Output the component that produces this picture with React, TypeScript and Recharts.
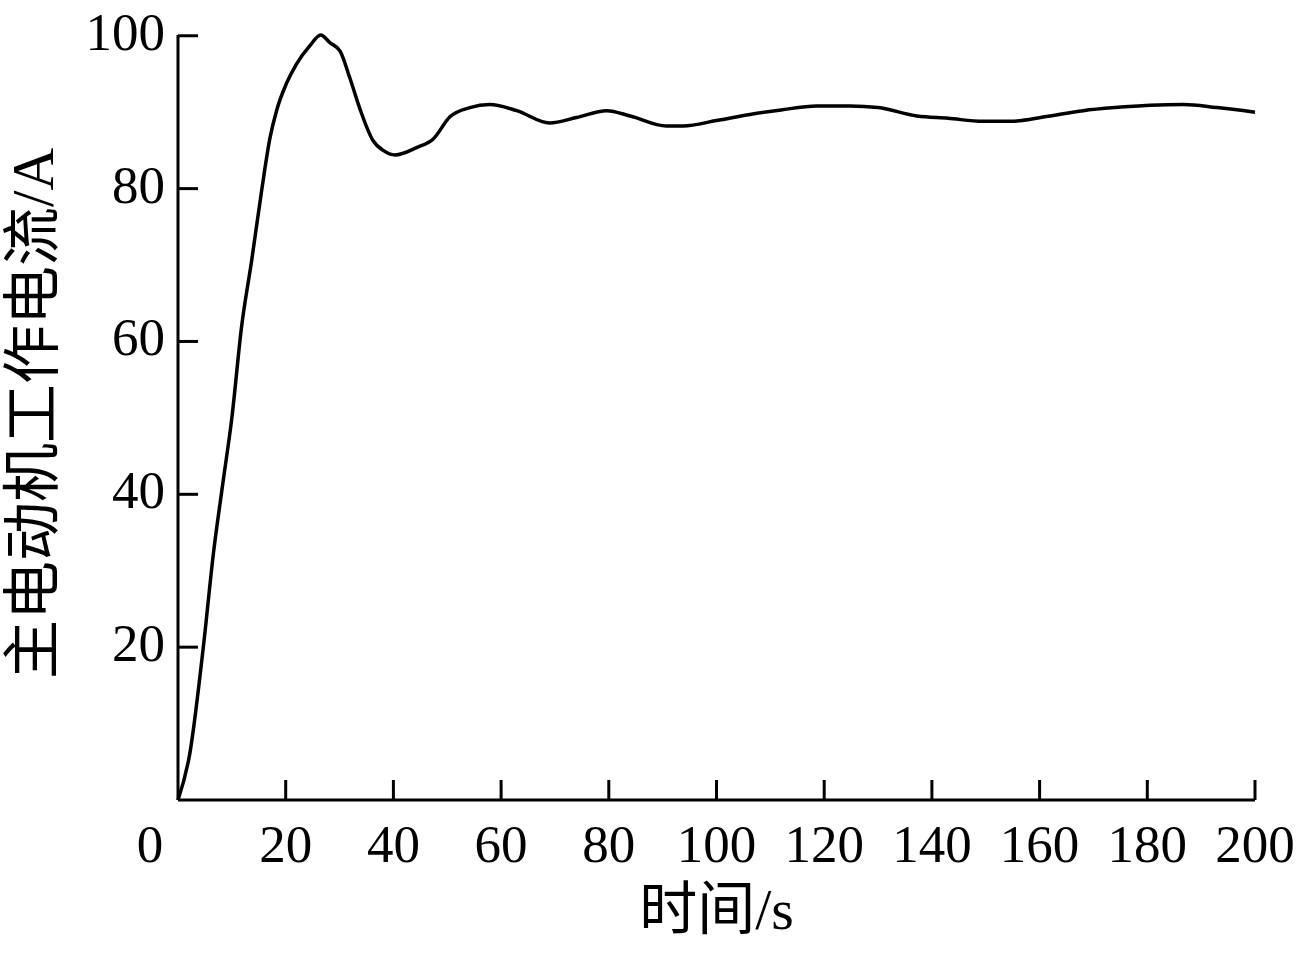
import React from "react"
import { LineChart, Line, XAxis, YAxis, Label } from "recharts"

// time (s) and main motor current (A)
const timeS = [
  0, 2.2, 4.7, 6.6, 8.4, 10, 11.8, 13.7, 15.5, 17.1, 18.3, 20.1, 22, 24.5, 26.5,
  28.2, 30.1, 31.9, 33.8, 36.2, 38.1, 40.3, 44.4, 47.4, 50.5, 54.2, 57.9, 62.9,
  69, 74, 79.6, 84, 90.7, 93.8, 100, 106.2, 112, 118.6, 124.8, 130, 137.2, 143,
  149.5, 154.5, 161, 168.1, 174, 180.5, 186.7, 192.9, 200,
]
const currentA = [
  0, 6.1, 20, 32.4, 41.8, 50, 61.9, 70.7, 79.6, 86.7, 90.2, 93.7, 96.3, 98.7, 100.1,
  99.1, 98, 94.5, 90.4, 86.3, 85, 84.4, 85.4, 86.5, 89.4, 90.6, 91, 90.2,
  88.6, 89.3, 90.2, 89.5, 88.2, 88.2, 88.9, 89.7, 90.3, 90.8, 90.8, 90.6, 89.5, 89.2,
  88.8, 88.8, 89.4, 90.2, 90.6, 90.9, 91, 90.6, 90,
]
const xTicks = [0, 20, 40, 60, 80, 100, 120, 140, 160, 180, 200]
const yTicks = [20, 40, 60, 80, 100]
const xTitle = "时间/s"
const yTitle = "主电动机工作电流/A"

const data = timeS.map((t, i) => ({ time: t, current: currentA[i] }))

const numFont = "'Liberation Serif', 'Times New Roman', serif"
const cjkFont = "'Liberation Serif', 'Noto Sans CJK SC', serif"

function XTick(props: any) {
  const { x, y, payload } = props
  const isZero = payload.value === 0
  return (
    <g>
      {!isZero && <line x1={x} y1={y} x2={x} y2={y - 20} stroke="#000" strokeWidth={3} />}
      <text
        x={isZero ? x - 28 : x}
        y={y + 62}
        textAnchor="middle"
        fontFamily={numFont}
        fontSize={53}
        fill="#000"
      >
        {payload.value}
      </text>
    </g>
  )
}

function YTick(props: any) {
  const { x, y, payload } = props
  return (
    <g>
      <line x1={x} y1={y} x2={x + 20} y2={y} stroke="#000" strokeWidth={3} />
      <text x={x - 13} y={y + 14} textAnchor="end" fontFamily={numFont} fontSize={53} fill="#000">
        {payload.value}
      </text>
    </g>
  )
}

export default function App() {
  return (
    <div style={{ position: "absolute", left: 0, top: 0, width: 1300, height: 954, background: "#fff" }}>
      <LineChart
        width={1300}
        height={954}
        data={data}
        margin={{ top: 35, right: 45, bottom: 0, left: 0 }}
      >
        <XAxis
          dataKey="time"
          type="number"
          domain={[0, 200]}
          ticks={xTicks}
          interval={0}
          height={154}
          tickSize={0}
          tickMargin={0}
          tickLine={false}
          axisLine={{ stroke: "#000", strokeWidth: 3 }}
          tick={<XTick />}
        >
          <Label
            content={({ viewBox }: any) => (
              <text
                x={viewBox.x + viewBox.width / 2}
                y={viewBox.y + 129}
                textAnchor="middle"
                fontFamily={cjkFont}
                fontSize={58}
                fill="#000"
              >
                {xTitle}
              </text>
            )}
          />
        </XAxis>
        <YAxis
          type="number"
          domain={[0, 100]}
          ticks={yTicks}
          interval={0}
          width={178}
          tickSize={0}
          tickMargin={0}
          tickLine={false}
          axisLine={{ stroke: "#000", strokeWidth: 3 }}
          tick={<YTick />}
        >
          <Label
            content={({ viewBox }: any) => {
              const cx = 33
              const cy = viewBox.y + viewBox.height / 2 - 4
              return (
                <text
                  x={cx}
                  y={cy}
                  transform={`rotate(-90, ${cx}, ${cy})`}
                  textAnchor="middle"
                  dominantBaseline="central"
                  fontFamily={cjkFont}
                  fontSize={59}
                  fill="#000"
                >
                  {yTitle}
                </text>
              )
            }}
          />
        </YAxis>
        <Line
          type="monotone"
          dataKey="current"
          stroke="#000"
          strokeWidth={3.5}
          dot={false}
          isAnimationActive={false}
        />
      </LineChart>
    </div>
  )
}
